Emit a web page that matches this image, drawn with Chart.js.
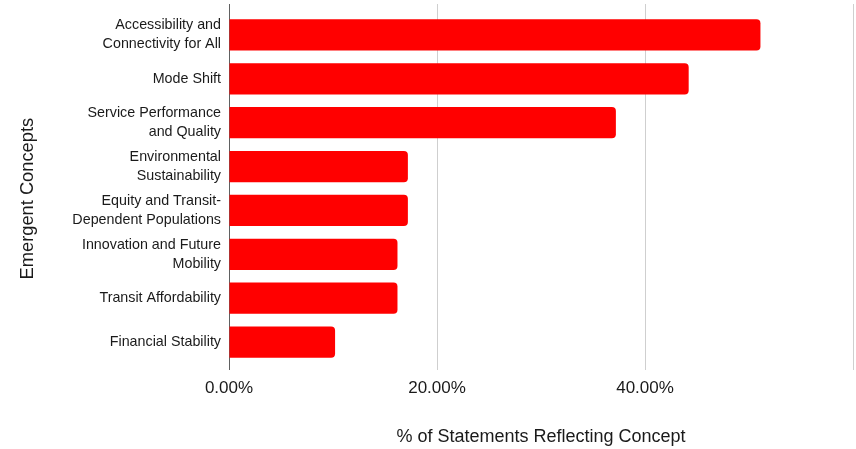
<!DOCTYPE html>
<html>
<head>
<meta charset="utf-8">
<script src="https://cdn.jsdelivr.net/npm/chart.js@4/dist/chart.umd.min.js"></script>
<style>
  html, body { margin: 0; padding: 0; background: #ffffff; }
  #wrap { width: 856px; height: 449px; position: relative; }
</style>
</head>
<body>
<div id="wrap"><canvas id="c"></canvas></div>
<script>
const categories = [
  ["Accessibility and", "Connectivity for All"],
  "Mode Shift",
  ["Service Performance", "and Quality"],
  ["Environmental", "Sustainability"],
  ["Equity and Transit-", "Dependent Populations"],
  ["Innovation and Future", "Mobility"],
  "Transit Affordability",
  "Financial Stability"
];
const shareOfStatements = [51.1, 44.2, 37.2, 17.2, 17.2, 16.2, 16.2, 10.2];
const xTicks = [0, 20, 40, 60];
const xMax = 60;

const FONT = "'Liberation Sans', Arial, sans-serif";
const gridColor = (ctx) => (ctx.tick && ctx.tick.value === 0) ? '#606060' : '#cfcfcf';

new Chart(document.getElementById('c'), {
  type: 'bar',
  data: {
    labels: categories,
    datasets: [{
      data: shareOfStatements,
      backgroundColor: '#ff0000',
      borderWidth: 0,
      borderRadius: 4,
      categoryPercentage: 1,
      barPercentage: 0.71
    }]
  },
  options: {
    indexAxis: 'y',
    responsive: true,
    maintainAspectRatio: false,
    animation: false,
    layout: { padding: { left: 0, right: 3, top: 4, bottom: 1 } },
    plugins: { legend: { display: false }, tooltip: { enabled: false } },
    scales: {
      x: {
        type: 'linear',
        position: 'bottom',
        min: 0, max: xMax,
        afterBuildTicks: (s) => { s.ticks = xTicks.map(v => ({ value: v })); },
        border: { display: false },
        grid: { color: gridColor, lineWidth: 1, drawTicks: true, tickLength: 6 },
        ticks: {
          padding: 8,
          color: '#1a1a1a',
          font: { family: FONT, size: 17 },
          callback: (v) => v === xMax ? '' : Number(v).toFixed(2) + '%'
        },
        title: {
          display: true,
          text: '% of Statements Reflecting Concept',
          color: '#1a1a1a',
          font: { family: FONT, size: 18 },
          padding: { top: 0, bottom: 0 }
        },
        afterFit: (s) => { s.height = 84; s.paddingLeft = 0; s.paddingRight = 0; }
      },
      x2: {
        type: 'linear',
        position: 'top',
        min: 0, max: xMax,
        afterBuildTicks: (s) => { s.ticks = xTicks.map(v => ({ value: v })); },
        border: { display: false },
        grid: { color: gridColor, drawOnChartArea: false, drawTicks: true, tickLength: 9 },
        ticks: { display: false },
        afterFit: (s) => { s.height = 9; s.paddingLeft = 0; s.paddingRight = 0; }
      },
      y: {
        type: 'category',
        offset: true,
        border: { display: false },
        grid: { display: false, drawTicks: false },
        ticks: {
          padding: 8,
          color: '#1a1a1a',
          font: { family: FONT, size: 14.3, lineHeight: 1.33 }
        },
        title: {
          display: true,
          text: 'Emergent Concepts    ',
          color: '#1a1a1a',
          font: { family: FONT, size: 18.3 },
          padding: { top: 17, bottom: 0 }
        },
        afterFit: (s) => { s.width = 229; s.paddingTop = 0; s.paddingBottom = 0; }
      }
    }
  }
});
</script>
</body>
</html>
